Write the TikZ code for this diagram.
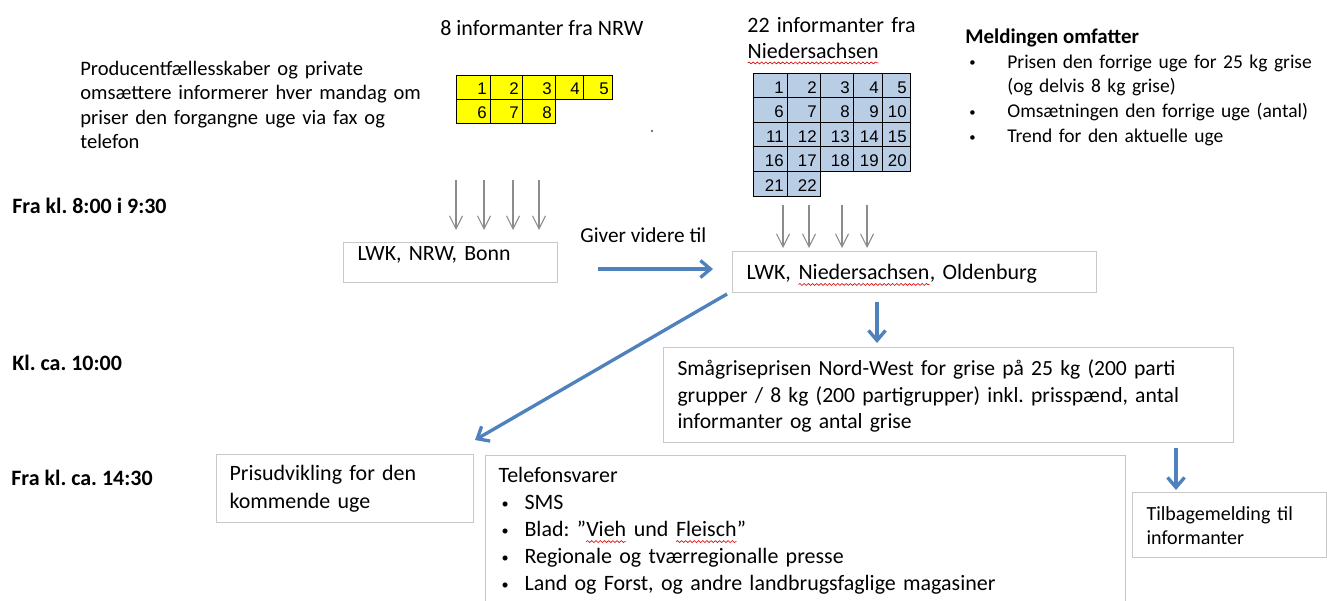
\documentclass[tikz,border=0pt]{standalone}
\usepackage{fontspec}
\setmainfont{Carlito}
\newfontfamily\gridfont{Liberation Sans}
\usetikzlibrary{arrows.meta,positioning,decorations.pathmorphing}
\frenchspacing

\definecolor{cellyellow}{HTML}{FFFF00}
\definecolor{cellblue}{HTML}{B9CDE5}
\definecolor{boxline}{HTML}{C8C8C8}
\definecolor{flowblue}{HTML}{4F81BD}
\definecolor{feedgray}{HTML}{8C8C8C}

% red wavy spelling mark under a word
\newcommand{\spellmark}[1]{\tikz[baseline=(w.base)]{\node[inner sep=0pt,outer sep=0pt,text width=,text height=,text depth=,align=none] (w) {#1};
  \draw[red!85!black,line width=0.35pt,decorate,decoration={snake,amplitude=0.55pt,segment length=2.4pt}] ([yshift=-2.8pt]w.base west) -- ([yshift=-2.8pt]w.base east);}}
% small list bullet
\newcommand{\dotitem}[2]{\hspace*{#1}\makebox[#2][l]{\raisebox{0.12ex}{\scalebox{0.65}{\textbullet}}}}

\begin{document}
\begin{tikzpicture}[x=0.02cm,y=-0.02cm,
            txt/.style={inner sep=0pt,font=\fontsize{12.5}{15}\selectfont,align=left},
            lbl/.style={inner sep=0pt,font=\fontsize{12.5}{15}\selectfont\bfseries},
            box/.style={draw=boxline,line width=0.6pt,rectangle,inner ysep=0pt,align=left,anchor=north west},
            cell/.style={draw=black,line width=0.5pt},
            num/.style={inner sep=0pt,font=\gridfont\fontsize{9.6}{11}\selectfont,anchor=base east},
            feed/.style={draw=feedgray,line width=0.6pt,-{Straight Barb[length=0.26cm,width=0.26cm]}},
            flow/.style={draw=flowblue,line width=1.9pt,-{Straight Barb[length=0.2cm,width=0.34cm]}}
          ]
          \fill[white] (0,0) rectangle (1327,600);
          \useasboundingbox (0,0) rectangle (1327,600);
          \clip (0,0) rectangle (1327,600);

          %labels
          \node[lbl,anchor=base west] (t1) at (12,213) {Fra kl. 8:00 i 9:30};
          \node[lbl,anchor=base west] (t2) at (12,370) {Kl. ca. 10:00};
          \node[lbl,anchor=base west] (t3) at (11,485) {Fra kl. ca. 14:30};

          %sources
          \node[txt,anchor=base west,text width=7.4cm,font=\fontsize{11.7}{14}\selectfont] (prod) at (80,75)
            {Producentfællesskaber og private\\ omsættere informerer hver mandag om\\ priser den forgangne uge via fax og\\ telefon};
          \node[txt,anchor=base west] (nrwhead) at (440,35) {8 informanter fra NRW};
          \node[txt,anchor=base west,text width=3.6cm,font=\fontsize{12.5}{14.8}\selectfont] (ndshead) at (747,32)
            {22 informanter fra\\ \spellmark{Niedersachsen}};
          \node[lbl,anchor=base west,font=\fontsize{11.9}{14}\selectfont\bfseries] (meldhead) at (965,43) {Meldingen omfatter};
          \node[txt,anchor=base west,text width=7.2cm,font=\fontsize{11.1}{14.2}\selectfont] (meld) at (965,68)
            {\dotitem{0.08cm}{0.76cm}Prisen den forrige uge for 25 kg grise\\
             \hspace*{0.84cm}(og delvis 8 kg grise)\\
             \dotitem{0.08cm}{0.76cm}Omsætningen den forrige uge (antal)\\
             \dotitem{0.08cm}{0.76cm}Trend for den aktuelle uge};
          \fill[black!70] (652,131) circle (1.2);

          %informant grids
          \foreach \xa/\xb/\ya/\nr in {456/490/75/1,490/522/75/2,522/555/75/3,555/583/75/4,583/612/75/5,
                                       456/490/99/6,490/522/99/7,522/555/99/8}{
            \draw[cell,fill=cellyellow] (\xa,\ya) rectangle (\xb,\ya+24);
            \node[num] (nrw\nr) at (\xb-3,\ya+19.5) {\nr};
          }
          \foreach \ya [count=\row from 0] in {73,97.6,122.2,146.8,171.4}
            \foreach \xa/\xb [count=\col] in {753/787,787/820,820/853,853/882,882/910}{
              \pgfmathtruncatemacro\nr{5*\row+\col}
              \ifnum\nr<23
                \draw[cell,fill=cellblue] (\xa,\ya) rectangle (\xb,\ya+24.6);
                \node[num] (nds\nr) at (\xb-3,\ya+20) {\nr};
              \fi
            }

          %offices
          \node[box,inner xsep=0.28cm,text width=3.72cm,text height=0.36cm,text depth=0.44cm,
                font=\fontsize{12.4}{15}\selectfont] (bonn) at (343,242) {LWK, NRW, Bonn};
          \node[box,inner xsep=0.28cm,text width=6.72cm,text height=0.56cm,text depth=0.26cm,
                font=\fontsize{12.5}{15}\selectfont] (ols) at (732,251) {LWK, \spellmark{Niedersachsen}, Oldenburg};
          \node[txt,anchor=base west,font=\fontsize{12.1}{15}\selectfont] (give) at (580,242) {Giver videre til};

          %results
          \node[box,inner xsep=0.28cm,text width=10.84cm,text height=0.56cm,text depth=1.34cm,
                font=\fontsize{12.3}{15.1}\selectfont] (smg) at (663,347)
            {Smågriseprisen Nord-West for grise på 25 kg (200 parti\\ grupper / 8 kg (200 partigrupper) inkl. prisspænd, antal\\ informanter og antal grise};
          \node[box,inner xsep=0.26cm,text width=4.62cm,text height=0.52cm,text depth=0.84cm,
                font=\fontsize{12.5}{15.9}\selectfont] (trend) at (216,454)
            {Prisudvikling for den\\ kommende uge};
          \node[box,inner xsep=0.26cm,text width=12.28cm,text height=0.54cm,text depth=2.56cm,
                font=\fontsize{12.5}{15.4}\selectfont] (tlf) at (485,455)
            {Telefonsvarer\\
             \dotitem{0.06cm}{0.46cm}SMS\\
             \dotitem{0.06cm}{0.46cm}Blad: ”\spellmark{Vieh} und \spellmark{Fleisch}”\\
             \dotitem{0.06cm}{0.46cm}Regionale og tværregionalle presse\\
             \dotitem{0.06cm}{0.46cm}Land og Forst, og andre landbrugsfaglige magasiner};
          \node[box,inner xsep=0.28cm,text width=3.32cm,text height=0.56cm,text depth=0.74cm,
                font=\fontsize{11.4}{13.6}\selectfont] (back) at (1132,492)
            {Tilbagemelding til\\ informanter};

          %informant arrows
          \foreach \x [count=\i] in {456,484,513,539}{
            \coordinate (na\i) at (\x,180);
            \coordinate (nb\i) at (\x,230);
            \draw[feed] (na\i) -- (nb\i);
          }
          \foreach \x [count=\i] in {783,809,842,867}{
            \coordinate (da\i) at (\x,205);
            \coordinate (db\i) at (\x,248);
            \draw[feed] (da\i) -- (db\i);
          }

          %flow
          \coordinate (g1) at (598,269);
          \coordinate (g2) at (713,269);
          \coordinate (o1) at (877,302);
          \coordinate (o2) at (877,343);
          \coordinate (o3) at (727,294);
          \coordinate (o4) at (475,440);
          \coordinate (s1) at (1176,448);
          \coordinate (s2) at (1176,490);
          \path
          (g1) edge[flow] (g2)
          (o1) edge[flow] (o2)
          (o3) edge[flow] (o4)
          (s1) edge[flow] (s2)
          ;
\end{tikzpicture}
\end{document}
